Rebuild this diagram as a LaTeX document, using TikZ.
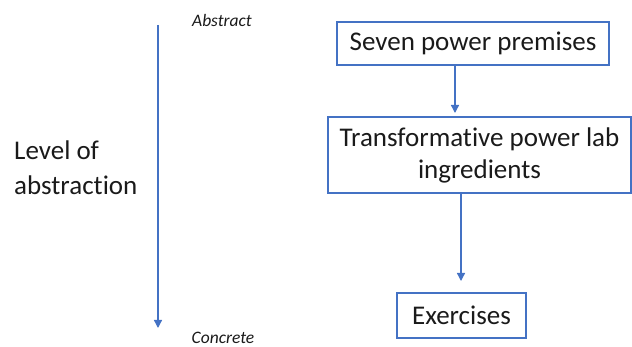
\documentclass[tikz,border=0pt]{standalone}
\usepackage{fontspec}
\setmainfont{Carlito}[Ligatures=NoCommon]
\usetikzlibrary{arrows.meta}
\definecolor{oblue}{HTML}{4472C4}
\definecolor{otext}{HTML}{1A1A1A}
\begin{document}
\begin{tikzpicture}[x=1pt,y=-1pt,
  box/.style={draw=oblue,line width=1.3pt,inner sep=0pt,align=center,text=otext,font=\fontsize{27}{32}\selectfont},
  conn/.style={draw=oblue,line width=1.3pt,-{Triangle[length=8pt,width=8pt]}},
  lbl/.style={font=\fontsize{17.5}{20}\selectfont\itshape,inner sep=0pt,text=otext}]
\useasboundingbox (0,0) rectangle (632,347);
\node[box,minimum width=272pt,minimum height=43pt] (b1) at (473,43.5) {Seven power premises};
\node[box,minimum width=303pt,minimum height=76pt] (b2) at (479.5,155) {Transformative power lab\\ingredients};
\node[box,minimum width=129pt,minimum height=45pt] (b3) at (461.5,315.5) {Exercises};
\coordinate (a1s) at (455,65);
\coordinate (a1e) at (455,113);
\draw[conn] (a1s) -- (a1e);
\coordinate (a2s) at (461,193);
\coordinate (a2e) at (461,281);
\draw[conn] (a2s) -- (a2e);
\coordinate (ls) at (158,25);
\coordinate (le) at (158,328);
\draw[conn] (ls) -- (le);
\node[lbl] (abs) at (222,20) {Abstract};
\node[lbl] (con) at (223,338) {Concrete};
\node[align=left,inner sep=0pt,text=otext,font=\fontsize{27}{35}\selectfont,anchor=west] (lev) at (14,168) {Level of\\abstraction};
\end{tikzpicture}
\end{document}
